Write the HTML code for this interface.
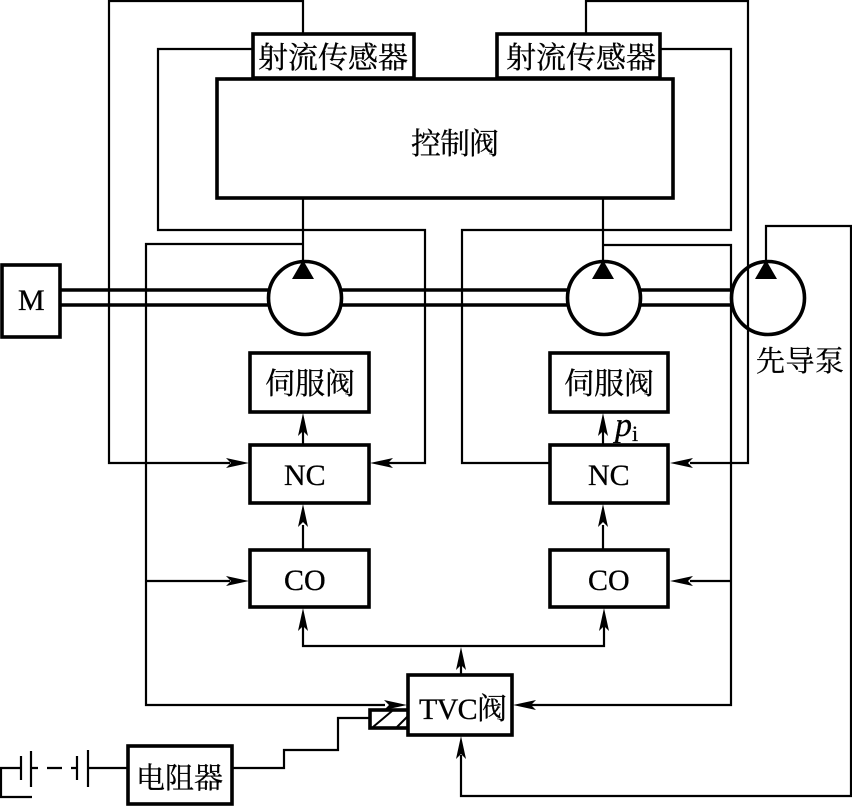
<!DOCTYPE html>
<html><head><meta charset="utf-8"><style>
html,body{margin:0;padding:0;background:#fff}
svg{display:block}
text{font-family:"Liberation Serif","Noto Serif CJK SC",serif;fill:#000;stroke:#000;stroke-width:.3}
</style></head><body>
<svg width="852" height="807" viewBox="0 0 852 807" xmlns="http://www.w3.org/2000/svg">
<defs>
<path id="a" d="M0 0L-23 -5L-18 0L-23 5Z" fill="#000"/>
</defs>
<g fill="none" stroke="#000" stroke-width="2.2">
<path d="M303 33V1H109V463H230"/>
<path d="M252 49H158V230H425V463H385"/>
<path d="M586 33V1H748V463H690"/>
<path d="M660 49H731V230H462V463H550"/>
<path d="M303 198V265"/>
<path d="M603 198V265"/>
<path d="M303 244H146V705H385"/>
<path d="M146 581H230"/>
<path d="M603 245H731V705H530"/>
<path d="M731 581H690"/>
<path d="M766 265V226H851V796H461V755"/>
<path d="M303 445V425"/>
<path d="M603 445V425"/>
<path d="M303 550V525"/>
<path d="M603 550V525"/>
<path d="M461 675V660"/>
<path d="M303 625V646H604V625"/>
<path d="M232 768H284V750H338V718H370"/>
<path d="M88 768H128"/>
<path d="M20 768H1V797H32"/>
<path d="M31 768H38M47 768H62M71 768H78"/>
<path d="M21 756V780M31 751V787M77 756V780M88 750V787"/>
</g>
<g fill="none" stroke="#000" stroke-width="3.6">
<path d="M60 290H268M60 305H268M342 290H568M342 305H568M640 290H732M640 305H732"/>
<circle cx="305" cy="298" r="36.5" fill="none"/>
<circle cx="604" cy="298" r="36.5"/>
<circle cx="768" cy="298" r="36.5"/>
</g>
<path d="M303 260L292 279H314Z"/>
<path d="M603 260L592 279H614Z"/>
<path d="M766 260L755 279H777Z"/>
<g fill="#fff" stroke="#000" stroke-width="3.6">
<rect x="217" y="79" width="456" height="119"/>
<rect x="253" y="34" width="161" height="44"/>
<rect x="497" y="34" width="163" height="44"/>
<rect x="2" y="265" width="58" height="72"/>
<rect x="250" y="353" width="119" height="59"/>
<rect x="550" y="353" width="118" height="59"/>
<rect x="250" y="445" width="119" height="58"/>
<rect x="550" y="445" width="118" height="58"/>
<rect x="250" y="550" width="119" height="57"/>
<rect x="550" y="550" width="118" height="57"/>
<rect x="370" y="710" width="40" height="18"/>
<rect x="408" y="675" width="104" height="60"/>
<rect x="128" y="746" width="104" height="58"/>
</g>
<path d="M373 727L392 711M397 727L408 716" fill="none" stroke="#000" stroke-width="2"/>
<use href="#a" transform="translate(249 463)"/>
<use href="#a" transform="translate(370 463) rotate(180)"/>
<use href="#a" transform="translate(670 463) rotate(180)"/>
<use href="#a" transform="translate(249 581)"/>
<use href="#a" transform="translate(670 581) rotate(180)"/>
<use href="#a" transform="translate(407 705)"/>
<use href="#a" transform="translate(513 705) rotate(180)"/>
<use href="#a" transform="translate(303 413) rotate(-90)"/>
<use href="#a" transform="translate(603 413) rotate(-90)"/>
<use href="#a" transform="translate(303 504) rotate(-90)"/>
<use href="#a" transform="translate(603 504) rotate(-90)"/>
<use href="#a" transform="translate(303 608) rotate(-90)"/>
<use href="#a" transform="translate(604 608) rotate(-90)"/>
<use href="#a" transform="translate(461 647) rotate(-90)"/>
<use href="#a" transform="translate(461 736) rotate(-90)"/>
<g font-size="30">
<text x="258" y="68" textLength="150">射流传感器</text>
<text x="506" y="68" textLength="150">射流传感器</text>
<text x="411" y="154" textLength="88">控制阀</text>
<text x="265" y="394" textLength="90">伺服阀</text>
<text x="564" y="394" textLength="90">伺服阀</text>
<text x="756" y="371" font-size="29" textLength="88">先导泵</text>
<text x="136" y="788" font-size="29" textLength="87">电阻器</text>
</g>
<g font-size="30">
<text x="18" y="310">M</text>
<text x="284" y="485">NC</text>
<text x="588" y="485">NC</text>
<text x="284" y="590">CO</text>
<text x="588" y="590">CO</text>
<text x="419" y="719" textLength="88">TVC阀</text>
<text x="615" y="436" font-style="italic" font-size="34">p</text>
<text x="632" y="441" font-size="22">i</text>
</g>
</svg>
</body></html>
